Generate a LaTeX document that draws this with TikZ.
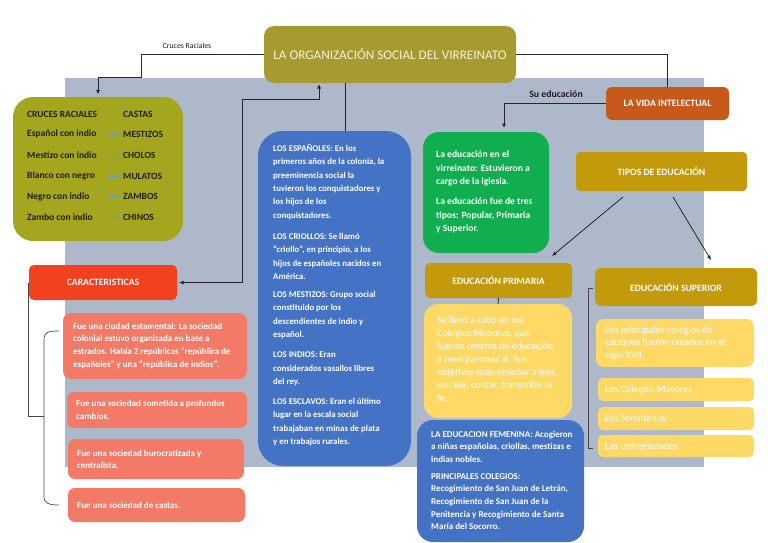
\documentclass[tikz,border=0pt]{standalone}
\usepackage{fontspec}
\setmainfont{Carlito}
\usetikzlibrary{arrows.meta}
\definecolor{bggrey}{HTML}{ADB9CA}
\definecolor{titleol}{HTML}{A69B30}
\definecolor{crucesol}{HTML}{A4A71D}
\definecolor{caractred}{HTML}{F1411F}
\definecolor{salmon}{HTML}{F47A68}
\definecolor{bluebox}{HTML}{4472C4}
\definecolor{vidaor}{HTML}{C75A1B}
\definecolor{greenbox}{HTML}{10AE4E}
\definecolor{gold}{HTML}{C29A0C}
\definecolor{lightyel}{HTML}{FFD966}
\definecolor{titletxt}{HTML}{F4F1DC}
\definecolor{darktxt}{HTML}{1E1E1E}
\definecolor{arrowblue}{HTML}{5B9BD5}
\definecolor{lineclr}{HTML}{262626}
\tikzset{
  box/.style={rounded corners=#1, draw=none, inner sep=0pt, outer sep=0pt},
  box/.default=8pt,
  head/.style={text=white, font=\fontsize{9.7}{11}\selectfont\bfseries},
  body/.style={text=white, anchor=north west, inner sep=0pt, align=left},
  ctext/.style={text=darktxt, anchor=west, inner sep=0pt, font=\fontsize{9.5}{10}\selectfont\bfseries},
  lbl/.style={text=darktxt, inner sep=0pt},
  conn/.style={draw=lineclr, line width=0.8pt},
  arr/.style={conn, -{Latex[length=4.5pt,width=4pt]}},
  dblarr/.style={conn, {Latex[length=4.5pt,width=4pt]}-{Latex[length=4.5pt,width=4pt]}},
  bluearr/.style={draw=arrowblue, line width=0.9pt, -{Latex[length=3.5pt,width=3.5pt]}},
  bracket/.style={draw=lineclr!85, line width=0.7pt},
}
\begin{document}
\begin{tikzpicture}[x=1pt,y=-1pt]
\fill[white] (0,0) rectangle (768,543);
\useasboundingbox (0,0) rectangle (768,543);
\fill[bggrey] (65,78) rectangle (704,467);

% boxes
\node[box=10pt, fill=titleol, minimum width=252pt, minimum height=57pt, text=titletxt, font=\fontsize{13.2}{15}\selectfont] (title) at (390,54.5) {LA ORGANIZACIÓN SOCIAL DEL VIRREINATO};
\node[box=20pt, fill=crucesol, minimum width=170pt, minimum height=144pt] (cruces) at (98,169) {};
\node[box=5pt, fill=caractred, minimum width=148pt, minimum height=35pt, head] (caract) at (103,282.5) {CARACTERISTICAS};
\node[box=8pt, fill=salmon, minimum width=184pt, minimum height=66pt] (red1) at (155,346) {};
\node[box=7pt, fill=salmon, minimum width=180pt, minimum height=36pt] (red2) at (157,410) {};
\node[box=7pt, fill=salmon, minimum width=176pt, minimum height=40pt] (red3) at (156,459) {};
\node[box=7pt, fill=salmon, minimum width=177pt, minimum height=34pt] (red4) at (156.5,505) {};
\node[box=25pt, fill=bluebox, minimum width=153pt, minimum height=335pt] (blue) at (334.5,298.5) {};
\node[box=6pt, fill=vidaor, minimum width=123pt, minimum height=33pt, head] (vida) at (667.5,103.5) {LA VIDA INTELECTUAL};
\node[box=16pt, fill=greenbox, minimum width=126pt, minimum height=121pt] (green) at (486,192.5) {};
\node[box=4pt, fill=gold, minimum width=171pt, minimum height=39pt, head] (tipos) at (661.5,171.5) {TIPOS DE EDUCACIÓN};
\node[box=5pt, fill=gold, minimum width=147pt, minimum height=35pt, head] (primaria) at (498.5,280.5) {EDUCACIÓN PRIMARIA};
\node[box=14pt, fill=lightyel, minimum width=148pt, minimum height=114pt] (primbox) at (498,361) {};
\node[box=16pt, fill=bluebox, minimum width=167pt, minimum height=122pt] (fem) at (500.5,481) {};
\node[box=6pt, fill=gold, minimum width=162pt, minimum height=38pt, head] (superior) at (676,287) {EDUCACIÓN SUPERIOR};
\node[box=8pt, fill=lightyel, minimum width=158pt, minimum height=48pt] (sup1) at (675,343) {};
\node[box=5pt, fill=lightyel, minimum width=156pt, minimum height=23pt] (sup2) at (676,389.5) {};
\node[box=5pt, fill=lightyel, minimum width=156pt, minimum height=23pt] (sup3) at (676,418.5) {};
\node[box=5pt, fill=lightyel, minimum width=156pt, minimum height=22pt] (sup4) at (676,446) {};

% cruces content
\node[ctext] (hcr) at (27,114) {CRUCES RACIALES};
\node[ctext] (hca) at (123,114) {CASTAS};
\node[ctext] (r1) at (27,134) {Español con indio};
\node[ctext] (k1) at (123,134) {MESTIZOS};
\node[ctext] (r2) at (27,155) {Mestizo con indio};
\node[ctext] (k2) at (123,155) {CHOLOS};
\node[ctext] (r3) at (27,176) {Blanco con negro};
\node[ctext] (k3) at (123,176) {MULATOS};
\node[ctext] (r4) at (27,196.5) {Negro con indio};
\node[ctext] (k4) at (123,196.5) {ZAMBOS};
\node[ctext] (r5) at (27,217) {Zambo con indio};
\node[ctext] (k5) at (123,217) {CHINOS};
\foreach \i in {1,...,5} \draw[bluearr] ([xshift=-16pt]k\i.west) -- ([xshift=-3pt]k\i.west);

% body texts
\node[body, font=\fontsize{8.8}{13.4}\selectfont\bfseries] (bluetxt) at (273,144) {LOS ESPAÑOLES: En los\\ primeros años de la colonia, la\\ preeminencia social la\\ tuvieron los conquistadores y\\ los hijos de los\\ conquistadores.\\[7.6pt] LOS CRIOLLOS: Se llamó\\ “criollo”, en principio, a los\\ hijos de españoles nacidos en\\ América.\\[4.6pt] LOS MESTIZOS: Grupo social\\ constituido por los\\ descendientes de indio y\\ español.\\[6.6pt] LOS INDIOS: Eran\\ considerados vasallos libres\\ del rey.\\[6.6pt] LOS ESCLAVOS: Eran el último\\ lugar en la escala social\\ trabajaban en minas de plata\\ y en trabajos rurales.};

\node[body, font=\fontsize{9.6}{13.5}\selectfont\bfseries] (greentxt) at (436,151) {La educación en el\\ virreinato: Estuvieron a\\ cargo de la iglesia.\\[6.5pt] La educación fue de tres\\ tipos: Popular, Primaria\\ y Superior.};

\node[body, font=\fontsize{10}{13.1}\selectfont] (primtxt) at (437,316) {Se llevó a cabo en los\\ Colegios Menores, que\\ fueron centros de educación\\ a nivel parroquial. Sus\\ objetivos eran enseñar a leer,\\ escribir, contar, transcribir la\\ fe.};

\node[body, font=\fontsize{9}{12.6}\selectfont\bfseries] (femtxt) at (431,430.5) {LA EDUCACION FEMENINA: Acogieron\\ a niñas españolas, criollas, mestizas e\\ indias nobles.\\[4.5pt] PRINCIPALES COLEGIOS:\\ Recogimiento de San Juan de Letrán,\\ Recogimiento de San Juan de la\\ Penitencia y Recogimiento de Santa\\ María del Socorro.};

\node[body, font=\fontsize{9}{12.8}\selectfont\bfseries] (red1txt) at (73,322.5) {Fue una ciudad estamental: La sociedad\\ colonial estuvo organizada en base a\\ estrados. Había 2 repúblicas “república de\\ españoles” y una “república de indios”.};
\node[body, font=\fontsize{9}{13}\selectfont\bfseries] (red2txt) at (76,399.5) {Fue una sociedad sometida a profundos\\ cambios.};
\node[body, font=\fontsize{9}{12.5}\selectfont\bfseries] (red3txt) at (77,449.5) {Fue una sociedad burocratizada y\\ centralista.};
\node[body, anchor=west, font=\fontsize{9}{10}\selectfont\bfseries] (red4txt) at (77,505) {Fue una sociedad de castas.};

\node[body, font=\fontsize{10}{12.6}\selectfont] (sup1txt) at (605,326) {Los principales colegios de\\ caciques fueron creados en el\\ siglo XVII.};
\node[body, anchor=west, font=\fontsize{10}{11}\selectfont] (sup2txt) at (605,389.5) {Los Colegios Mayores};
\node[body, anchor=west, font=\fontsize{10}{11}\selectfont] (sup3txt) at (605,418.5) {Los Seminarios};
\node[body, anchor=west, font=\fontsize{10}{11}\selectfont] (sup4txt) at (605,446) {Las Universidades};

% labels
\node[lbl, font=\fontsize{7.8}{9}\selectfont] (lblcr) at (187,46) {Cruces Raciales};
\node[lbl, font=\fontsize{9.8}{11}\selectfont\bfseries] (lblsu) at (556,94) {Su educación};

% connectors
\coordinate (c1) at (141,77);
\draw[arr, shorten >=2.5pt] (title.west) -| (c1) -| (cruces.north);
\draw[conn] (title.east) -| (vida.north);
\draw[arr, shorten >=4pt] (vida.west) -| ([xshift=18pt]green.north);
\draw[conn] ([xshift=-45pt]title.south) -- ([xshift=10.5pt]blue.north);
\coordinate (kk) at (242,99);
\draw[dblarr, shorten <=2pt, shorten >=1pt] (caract.east) -| (kk) -| ([xshift=-71pt]title.south);
\coordinate (ta1) at (623,197);
\coordinate (tb1) at (552,256);
\coordinate (ta2) at (673,197);
\coordinate (tb2) at (711,260);
\draw[arr] (ta1) -- (tb1);
\draw[arr] (ta2) -- (tb2);
\draw[conn] (primaria.south) -- (primbox.north);

% brackets
\draw[bracket] (593,288) -- (588,288) -- (588,448) -- (593,448);
\coordinate (bt) at (44,416);
\draw[bracket] ([xshift=-1pt]caract.west) |- (bt);
\draw[bracket] (59,331) .. controls (48,331) and (44,332) .. (44,340) -- (44,496) .. controls (44,503) and (48,505) .. (59,505);
\end{tikzpicture}
\end{document}
